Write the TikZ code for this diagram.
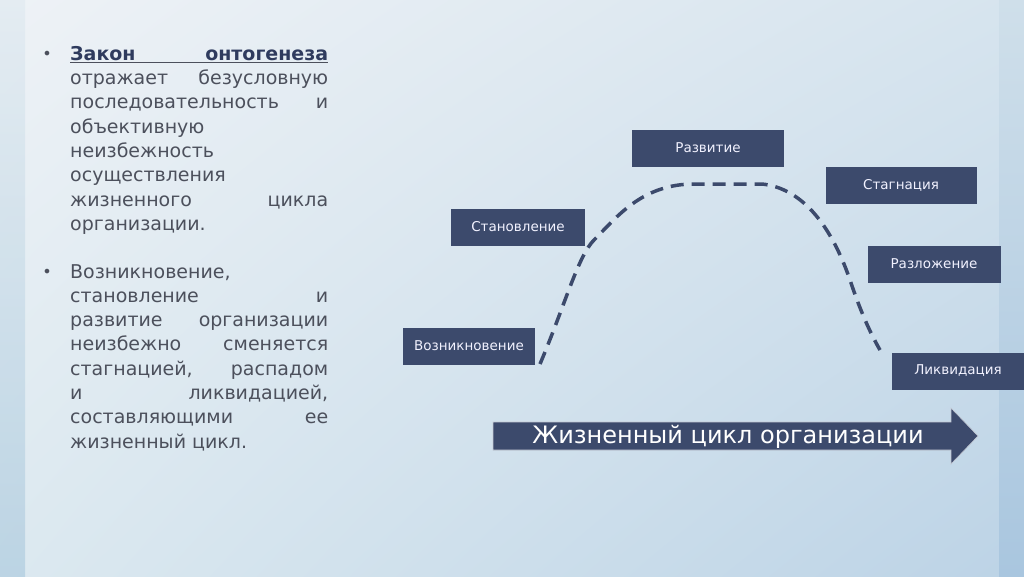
\documentclass[tikz,border=0pt]{standalone}
\usepackage{fontspec}
\setmainfont{DejaVu Sans}
\usetikzlibrary{shadings}
\definecolor{boxblue}{HTML}{3C4A6C}
\definecolor{textgray}{HTML}{4C505C}
\definecolor{titleblue}{HTML}{2F3B5E}
\definecolor{bgtl}{HTML}{EEF2F6}
\definecolor{bgtr}{HTML}{D6E4EE}
\definecolor{bgbl}{HTML}{DCE9F0}
\definecolor{bgbr}{HTML}{BCD3E6}
\definecolor{striptop}{HTML}{E2EBF1}
\definecolor{stripbot}{HTML}{B4CFE1}
\definecolor{rstriptop}{HTML}{CFDFEA}
\definecolor{rstripbot}{HTML}{A9C6DF}
\newcommand{\jl}[1]{\makebox[258pt][s]{#1}}

\begin{document}
\begin{tikzpicture}[x=1pt, y=-1pt,
		stage/.style={fill=boxblue, text=white!95!blue, font=\fontsize{13.5}{15}\selectfont, minimum height=37pt, inner sep=0pt},
		para/.style={anchor=north west, inner sep=0pt, align=left, text=textgray, font=\fontsize{19}{24.3}\selectfont},
		bullet/.style={inner sep=0pt, text=textgray, font=\fontsize{16}{18}\selectfont}]
		\useasboundingbox (0,0) rectangle (1024,576);
		% background
		\shade[upper left=bgtl, upper right=bgtr, lower left=bgbl, lower right=bgbr] (0,0) rectangle (1024,576);
		\shade[top color=striptop, bottom color=stripbot, opacity=0.8] (0,0) rectangle (25,576);
		\shade[top color=rstriptop, bottom color=rstripbot] (999,0) rectangle (1024,576);

		\node[bullet] (b1) at (47,55) {•};
		\node[para] (law) at (70,46) {\underline{\jl{\color{titleblue}\bfseries Закон онтогенеза}}\\
			\jl{отражает безусловную}\\
			\jl{последовательность и}\\
			объективную\\
			неизбежность\\
			осуществления\\
			\jl{жизненного цикла}\\
			организации.};
		\node[bullet] (b2) at (47,273) {•};
		\node[para] (stages) at (70,264) {Возникновение,\\
			\jl{становление и}\\
			\jl{развитие организации}\\
			\jl{неизбежно сменяется}\\
			\jl{стагнацией, распадом}\\
			\jl{и ликвидацией,}\\
			\jl{составляющими ее}\\
			жизненный цикл.};

		\node[stage, minimum width=132pt] (voz) at (469,346) {Возникновение};
		\node[stage, minimum width=134pt] (stan) at (518,227) {Становление};
		\node[stage, minimum width=152pt] (razv) at (708,148) {Развитие};
		\node[stage, minimum width=151pt] (stag) at (901,185) {Стагнация};
		\node[stage, minimum width=133pt] (razl) at (934,264) {Разложение};
		\node[stage, minimum width=132pt] (likv) at (958,371) {Ликвидация};

		% life curve
		\draw[boxblue, line width=3.5pt, dash pattern=on 13pt off 8pt] (540,364) .. controls (565,305) and (578,256) .. (594,240) .. controls (616,218) and (640,186) .. (690,184) -- (762,184) .. controls (800,188) and (830,222) .. (850,280) .. controls (862,316) and (872,336) .. (880,350);

		% big arrow
		\fill[boxblue, draw=white!70!boxblue, line width=0.6pt] (493,422) -- (951,422) -- (951,408) -- (978,436) -- (951,464) -- (951,450) -- (493,450) -- cycle;
		\node[text=white, font=\fontsize{24}{27}\selectfont, inner sep=0pt] (cycle) at (728,437) {Жизненный цикл организации};
	\end{tikzpicture}
\end{document}
